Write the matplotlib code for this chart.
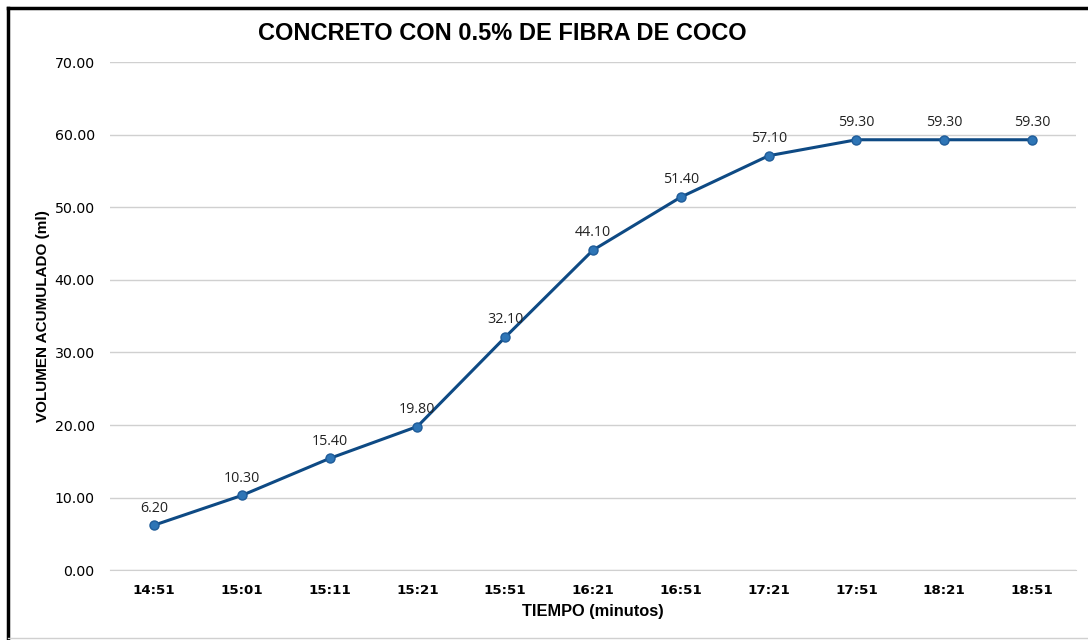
import matplotlib
matplotlib.use("Agg")
import matplotlib.pyplot as plt
from matplotlib.lines import Line2D

# data
tiempos = ["14:51", "15:01", "15:11", "15:21", "15:51", "16:21",
           "16:51", "17:21", "17:51", "18:21", "18:51"]
volumen = [6.20, 10.30, 15.40, 19.80, 32.10, 44.10, 51.40, 57.10, 59.30, 59.30, 59.30]
y_ticks = [0, 10, 20, 30, 40, 50, 60, 70]

line_color = "#0E4A84"
marker_color = "#2E75B6"

fig = plt.figure(figsize=(10.88, 6.4), dpi=100)
ax = fig.add_axes([0.1011, 0.109, 0.8879, 0.794])

x = list(range(len(tiempos)))
ax.plot(x, volumen, color=line_color, linewidth=2.2, marker="o", markersize=6.5,
        markerfacecolor=marker_color, markeredgecolor="#1F5C99", markeredgewidth=1, zorder=3)

for xi, v in zip(x, volumen):
    ax.annotate(f"{v:.2f}", (xi, v), textcoords="offset points", xytext=(0, 7),
                ha="center", va="bottom", fontsize=10.3, family="Open Sans", color="#222222")

ax.set_xlim(-0.5, len(tiempos) - 0.5)
ax.set_ylim(0, 70)
ax.set_yticks(y_ticks)
ax.set_yticklabels([f"{t:.2f}" for t in y_ticks], fontsize=10.2, family="DejaVu Sans")
ax.set_xticks(x)
ax.set_xticklabels(tiempos, fontsize=9.6, fontweight="bold", family="DejaVu Sans")
ax.tick_params(axis="y", length=0, pad=11)
ax.tick_params(axis="x", length=0, pad=10)

ax.grid(axis="y", color="#D0D0D0", linewidth=1)
ax.set_axisbelow(True)
for side in ["top", "right", "left"]:
    ax.spines[side].set_visible(False)
ax.spines["bottom"].set_color("#D0D0D0")

ax.set_xlabel("TIEMPO (minutos)", fontsize=11.8, fontweight="bold", family="Liberation Sans", labelpad=5)
ax.set_ylabel("VOLUMEN ACUMULADO (ml)", fontsize=11, fontweight="bold", family="Liberation Sans", labelpad=3)

fig.text(0.462, 0.948, "CONCRETO CON 0.5% DE FIBRA DE COCO", ha="center", va="center",
         fontsize=17, fontweight="bold", family="Liberation Sans")

# frame around the chart (left and top dark, bottom light)
fig.add_artist(Line2D([0.0075, 0.0075], [0.0, 0.988], color="black", linewidth=2.5, transform=fig.transFigure))
fig.add_artist(Line2D([0.0075, 1.0], [0.988, 0.988], color="black", linewidth=2.5, transform=fig.transFigure))
fig.add_artist(Line2D([0.0075, 1.0], [0.003, 0.003], color="#D0D0D0", linewidth=1, transform=fig.transFigure))

fig.savefig("out.png", dpi=100)
